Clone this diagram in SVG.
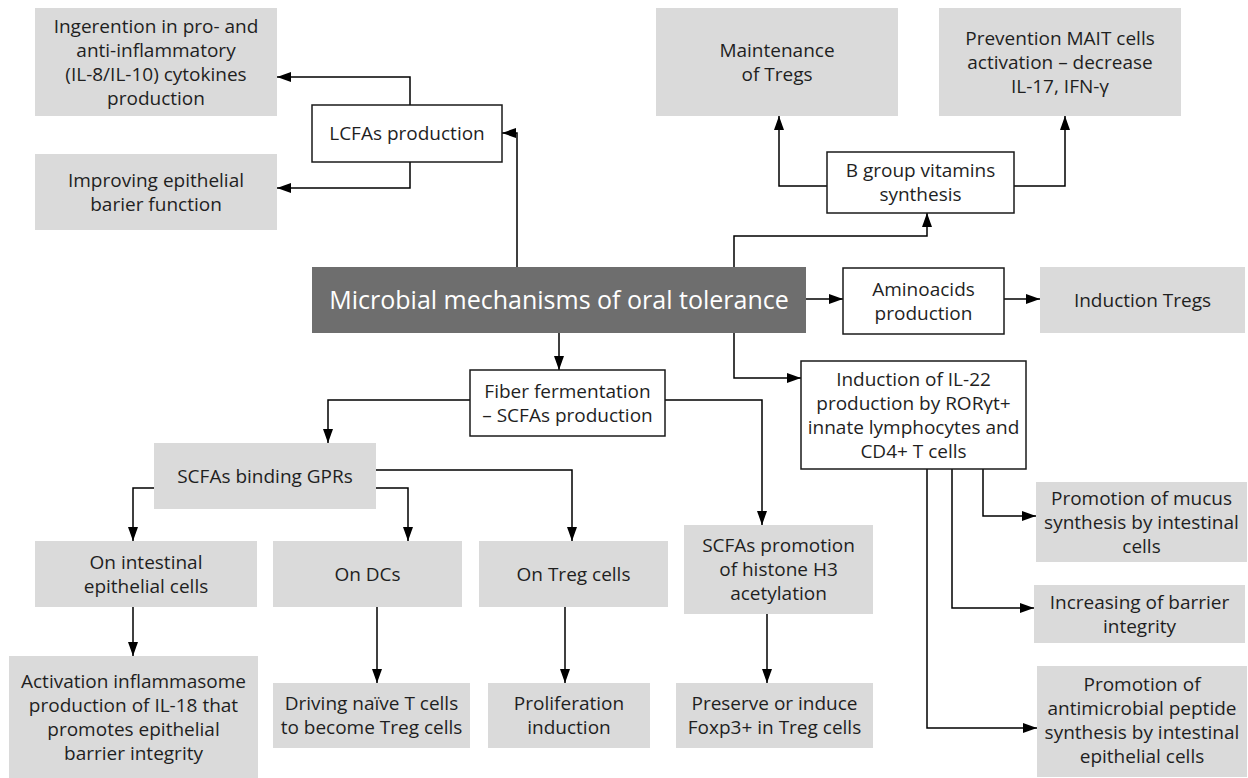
<svg xmlns="http://www.w3.org/2000/svg" width="1248" height="778" viewBox="0 0 1248 778">
<defs>
<marker id="ah" markerUnits="userSpaceOnUse" markerWidth="14" markerHeight="10" refX="14" refY="5" orient="auto">
<path d="M0,0 L14,5 L0,10 z" fill="#000"/>
</marker>
<style>
.g{fill:#dadada;}
.w{fill:#fff;stroke:#1a1a1a;stroke-width:1.5;}
.m{fill:#6e6e6e;}
text{font-family:"Open Sans",Lato,"Liberation Sans",sans-serif;font-size:19px;fill:#1f1f1f;text-anchor:middle;}
.mt{font-size:25px;fill:#fff;}
.c path{fill:none;stroke:#000;stroke-width:1.5;marker-end:url(#ah);}
</style>
</defs>
<rect width="1248" height="778" fill="#fff"/>

<g class="c" id="connectors">
<path d="M517,267 V133 H502"/>
<path d="M410,105 V77 H277"/>
<path d="M410,162 V188 H277"/>
<path d="M734,267 V236 H927 V213"/>
<path d="M827,186 H779 V116"/>
<path d="M1014,186 H1065 V116"/>
<path d="M806,299 H843"/>
<path d="M1004,299 H1040"/>
<path d="M734,333 V378 H801"/>
<path d="M559,333 V370"/>
<path d="M470,400 H328 V443"/>
<path d="M665,400 H762 V525"/>
<path d="M376,470 H572 V541"/>
<path d="M154,488 H133 V541"/>
<path d="M376,488 H408 V541"/>
<path d="M133,607 V656"/>
<path d="M377,607 V683"/>
<path d="M565,607 V683"/>
<path d="M767,614 V683"/>
<path d="M983,469 V516 H1036"/>
<path d="M952,469 V608 H1034"/>
<path d="M927,469 V728 H1037"/>
</g>

<g id="ingerention"><rect class="g" x="35" y="8" width="242" height="108"/>
<text x="156" y="32.5">Ingerention in pro- and</text><text x="156" y="56.5">anti-inflammatory</text><text x="156" y="80.5">(IL-8/IL-10) cytokines</text><text x="156" y="104.5">production</text></g>

<g id="improving"><rect class="g" x="35" y="154" width="242" height="76"/>
<text x="156" y="186.5">Improving epithelial</text><text x="156" y="210.5">barier function</text></g>

<g id="lcfas"><rect class="w" x="312" y="105" width="190" height="57"/>
<text x="407" y="140">LCFAs production</text></g>

<g id="maintenance"><rect class="g" x="656" y="8" width="242" height="108"/>
<text x="777" y="56.5">Maintenance</text><text x="777" y="80.5">of Tregs</text></g>

<g id="mait"><rect class="g" x="939" y="8" width="242" height="108"/>
<text x="1060" y="44.5">Prevention MAIT cells</text><text x="1060" y="68.5">activation – decrease</text><text x="1060" y="92.5">IL-17, IFN-γ</text></g>

<g id="bvit"><rect class="w" x="827" y="152" width="187" height="61"/>
<text x="920.5" y="177">B group vitamins</text><text x="920.5" y="201">synthesis</text></g>

<g id="main"><rect class="m" x="312" y="267" width="494" height="66"/>
<text class="mt" x="559" y="309">Microbial mechanisms of oral tolerance</text></g>

<g id="amino"><rect class="w" x="843" y="268" width="161" height="66"/>
<text x="923.5" y="295.5">Aminoacids</text><text x="923.5" y="319.5">production</text></g>

<g id="indtregs"><rect class="g" x="1040" y="267" width="205" height="66"/>
<text x="1142.5" y="306.5">Induction Tregs</text></g>

<g id="il22"><rect class="w" x="801" y="361" width="225" height="108"/>
<text x="913.5" y="385.5">Induction of IL-22</text><text x="913.5" y="409.5">production by RORγt+</text><text x="913.5" y="433.5">innate lymphocytes and</text><text x="913.5" y="457.5">CD4+ T cells</text></g>

<g id="fiber"><rect class="w" x="470" y="370" width="195" height="66"/>
<text x="567.5" y="397.5">Fiber fermentation</text><text x="567.5" y="421.5">– SCFAs production</text></g>

<g id="gprs"><rect class="g" x="154" y="443" width="222" height="66"/>
<text x="265" y="482.5">SCFAs binding GPRs</text></g>

<g id="onepi"><rect class="g" x="35" y="541" width="222" height="66"/>
<text x="146" y="568.5">On intestinal</text><text x="146" y="592.5">epithelial cells</text></g>

<g id="ondcs"><rect class="g" x="273" y="541" width="189" height="66"/>
<text x="367.5" y="580.5">On DCs</text></g>

<g id="ontreg"><rect class="g" x="479" y="541" width="189" height="66"/>
<text x="573.5" y="580.5">On Treg cells</text></g>

<g id="histone"><rect class="g" x="684" y="525" width="189" height="89"/>
<text x="778.5" y="552">SCFAs promotion</text><text x="778.5" y="576">of histone H3</text><text x="778.5" y="600">acetylation</text></g>

<g id="activation"><rect class="g" x="9" y="656" width="249" height="122"/>
<text x="133.5" y="687.5">Activation inflammasome</text><text x="133.5" y="711.5">production of IL-18 that</text><text x="133.5" y="735.5">promotes epithelial</text><text x="133.5" y="759.5">barrier integrity</text></g>

<g id="driving"><rect class="g" x="273" y="683" width="197" height="65"/>
<text x="371.5" y="710">Driving naïve T cells</text><text x="371.5" y="734">to become Treg cells</text></g>

<g id="prolif"><rect class="g" x="488" y="683" width="162" height="65"/>
<text x="569" y="710">Proliferation</text><text x="569" y="734">induction</text></g>

<g id="preserve"><rect class="g" x="676" y="683" width="197" height="65"/>
<text x="774.5" y="710">Preserve or induce</text><text x="774.5" y="734">Foxp3+ in Treg cells</text></g>

<g id="mucus"><rect class="g" x="1036" y="482" width="211" height="80"/>
<text x="1141.5" y="504.5">Promotion of mucus</text><text x="1141.5" y="528.5">synthesis by intestinal</text><text x="1141.5" y="552.5">cells</text></g>

<g id="barrier"><rect class="g" x="1034" y="585" width="211" height="58"/>
<text x="1139.5" y="608.5">Increasing of barrier</text><text x="1139.5" y="632.5">integrity</text></g>

<g id="antimicrobial"><rect class="g" x="1037" y="666" width="210" height="111"/>
<text x="1142" y="691">Promotion of</text><text x="1142" y="715">antimicrobial peptide</text><text x="1142" y="739">synthesis by intestinal</text><text x="1142" y="763">epithelial cells</text></g>
</svg>
